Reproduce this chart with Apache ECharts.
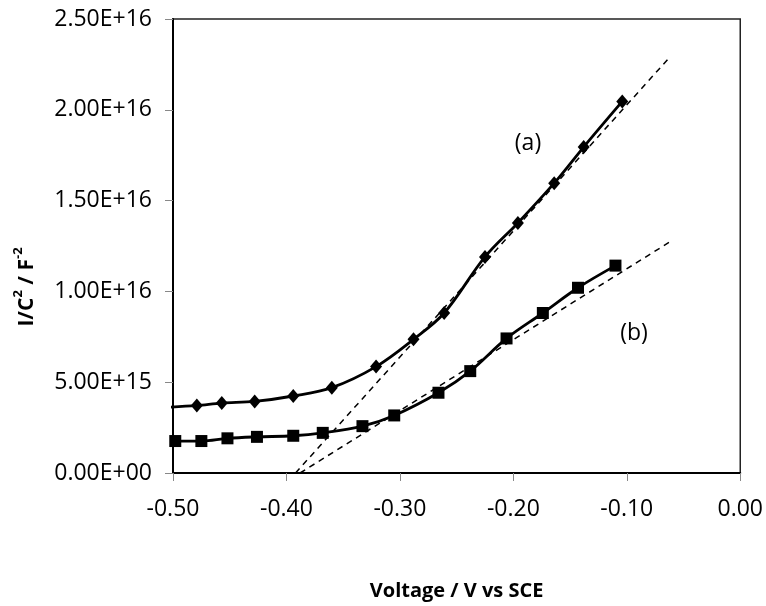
<!DOCTYPE html>
<html>
<head>
<meta charset="utf-8">
<script src="https://cdn.jsdelivr.net/npm/echarts@6/dist/echarts.min.js"></script>
<style>
  html, body { margin: 0; padding: 0; background: #fff; }
  #mott_chart { width: 766px; height: 606px; }
</style>
</head>
<body>
<div id="mott_chart"></div>
<script>
// 曲线 (a) 菱形点
var a_voltage = [-0.51, -0.479, -0.457, -0.428, -0.394, -0.360, -0.321, -0.288, -0.261, -0.225, -0.196, -0.164, -0.138, -0.104];
var a_value = [3.60e15, 3.72e15, 3.85e15, 3.94e15, 4.24e15, 4.70e15, 5.86e15, 7.36e15, 8.81e15, 1.19e16, 1.377e16, 1.596e16, 1.795e16, 2.046e16];

// 曲线 (b) 方形点
var b_voltage = [-0.498, -0.475, -0.452, -0.426, -0.394, -0.368, -0.333, -0.305, -0.266, -0.238, -0.206, -0.174, -0.143, -0.110];
var b_value = [1.76e15, 1.76e15, 1.91e15, 1.99e15, 2.05e15, 2.21e15, 2.58e15, 3.17e15, 4.42e15, 5.61e15, 7.41e15, 8.81e15, 1.020e16, 1.142e16];

// 切线 (虚线)
var a_fit_voltage = [-0.392, -0.064];
var a_fit_value = [0, 2.277e16];
var b_fit_voltage = [-0.388, -0.062];
var b_fit_value = [0, 1.273e16];

var font_family = '"Open Sans", "Noto Sans", sans-serif';

function pairs(xs, ys) {
	return xs.map(function (x, i) {
		return [x, ys[i]];
	});
}

function sci_label(value) {
	var parts = Number(value).toExponential(2).split('e');
	var sign = parts[1].charAt(0);
	var exp = parts[1].slice(1);
	if (exp.length < 2) {
		exp = '0' + exp;
	}
	return parts[0] + 'E' + sign + exp;
}

var a_data = pairs(a_voltage, a_value);
// 第一个点在坐标轴外, 不画符号
a_data[0] = { value: a_data[0], symbol: 'none' };

var mott_chart = echarts.init(document.getElementById('mott_chart'));

var mott_option = {
	animation: false,
	backgroundColor: '#fff',
	grid: {
		left: 173,
		right: 23,
		top: 19,
		bottom: 119,
		show: true,
		borderColor: '#222',
		borderWidth: 1.5
	},
	xAxis: {
		type: 'value',
		min: -0.5,
		max: 0,
		interval: 0.1,
		name: 'Voltage / V vs SCE',
		nameLocation: 'middle',
		nameGap: 108,
		nameTextStyle: {
			fontFamily: font_family,
			fontWeight: 'bold',
			fontSize: 20,
			color: '#000'
		},
		axisLine: { onZero: false, lineStyle: { color: '#000', width: 2 } },
		axisTick: { show: true, inside: false, length: 8, lineStyle: { color: '#888', width: 1 } },
		splitLine: { show: false },
		axisLabel: {
			margin: 25,
			fontFamily: font_family,
			fontSize: 23,
			color: '#000',
			formatter: function (value) {
				return value.toFixed(2);
			}
		}
	},
	yAxis: {
		type: 'value',
		min: 0,
		max: 2.5e16,
		interval: 5e15,
		axisLine: { show: true, onZero: false, lineStyle: { color: '#000', width: 2 } },
		axisTick: { show: true, inside: false, length: 8, lineStyle: { color: '#888', width: 1 } },
		splitLine: { show: false },
		axisLabel: {
			margin: 21,
			fontFamily: font_family,
			fontSize: 23,
			color: '#000',
			formatter: sci_label
		}
	},
	graphic: [
		{
			type: 'text',
			x: 25,
			y: 287,
			rotation: Math.PI / 2,
			style: {
				text: '{m|I/C}{s|2}{m| / F}{s|-2}',
				align: 'center',
				verticalAlign: 'middle',
				fill: '#000',
				rich: {
					m: { fontFamily: font_family, fontWeight: 'bold', fontSize: 21, lineHeight: 26, verticalAlign: 'bottom' },
					s: { fontFamily: font_family, fontWeight: 'bold', fontSize: 13, lineHeight: 26, verticalAlign: 'top' }
				}
			}
		},
		{
			type: 'text',
			x: 528,
			y: 143,
			style: {
				text: '(a)',
				align: 'center',
				verticalAlign: 'middle',
				fontFamily: font_family,
				fontSize: 23,
				fill: '#000'
			}
		},
		{
			type: 'text',
			x: 634,
			y: 333,
			style: {
				text: '(b)',
				align: 'center',
				verticalAlign: 'middle',
				fontFamily: font_family,
				fontSize: 23,
				fill: '#000'
			}
		}
	],
	series: [
		{
			name: 'a_fit',
			type: 'line',
			data: pairs(a_fit_voltage, a_fit_value),
			symbol: 'none',
			lineStyle: { color: '#000', width: 1.5, type: [6, 5] },
			z: 1
		},
		{
			name: 'b_fit',
			type: 'line',
			data: pairs(b_fit_voltage, b_fit_value),
			symbol: 'none',
			lineStyle: { color: '#000', width: 1.5, type: [6, 5] },
			z: 1
		},
		{
			name: '(a)',
			type: 'line',
			data: a_data,
			smooth: 0.35,
			symbol: 'diamond',
			symbolSize: [12, 14],
			itemStyle: { color: '#000' },
			lineStyle: { color: '#000', width: 2.8 },
			z: 3
		},
		{
			name: '(b)',
			type: 'line',
			data: pairs(b_voltage, b_value),
			smooth: 0.35,
			symbol: 'rect',
			symbolSize: 12,
			itemStyle: { color: '#000' },
			lineStyle: { color: '#000', width: 2.8 },
			z: 3
		}
	]
};

mott_chart.setOption(mott_option);
</script>
</body>
</html>
